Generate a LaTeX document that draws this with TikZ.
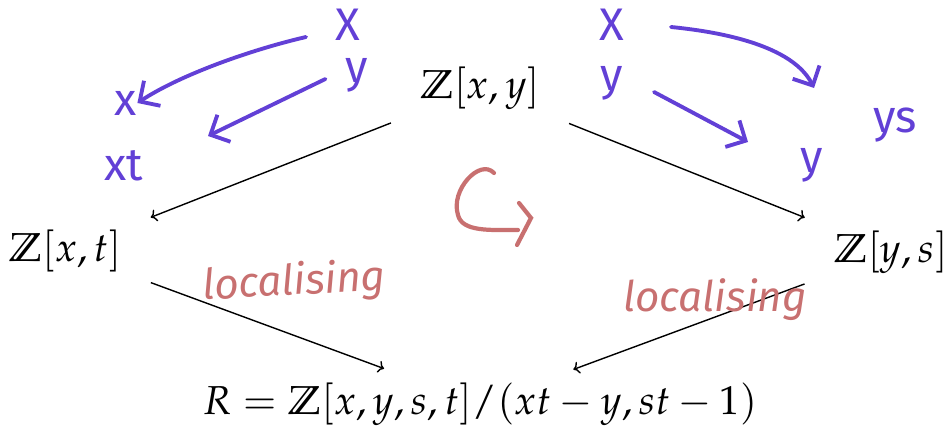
\documentclass[tikz,border=0pt]{standalone}
\usepackage{amssymb}
\usepackage{mathpazo}
\usepackage[no-math]{fontspec}
\newfontfamily\handfont{Fira Sans}
\usetikzlibrary{arrows.meta}
\definecolor{ink}{RGB}{98,64,214}
\definecolor{chalk}{RGB}{200,112,112}
\tikzset{
  ring/.style={font=\fontsize{23}{27}\selectfont},
  map/.style={->,line width=0.8pt,shorten <=0.5cm,shorten >=0.5cm},
  pen/.style={draw=ink,line width=2.2pt,line cap=round,-{Straight Barb[length=0.3cm,width=0.6cm]}},
  penlabel/.style={text=ink,font=\handfont\fontsize{26}{28}\selectfont,inner sep=0pt},
  note/.style={text=chalk,font=\handfont\itshape\fontsize{24}{26}\selectfont}
}
\begin{document}
\begin{tikzpicture}[x=0.02cm,y=-0.02cm]
\useasboundingbox (0,0) rectangle (952,438);

% the four rings
\node[ring] (zxy) at (480,88) {$\mathbb{Z}[x,y]$};
\node[ring] (zxt) at (65,251) {$\mathbb{Z}[x,t]$};
\node[ring] (zys) at (891,252) {$\mathbb{Z}[y,s]$};
\node[ring] (quot) at (480,404) {$R=\mathbb{Z}[x,y,s,t]/(xt-y,st-1)$};

\draw[map] (zxy) -- (zxt);
\draw[map] (zxy) -- (zys);
\draw[map,shorten >=0.45cm] (zxt) -- (quot);
\draw[map,shorten >=0.4cm] (zys) -- (quot);

% handwritten images of the generators
\node[penlabel] (lX) at (348,25) {X};
\node[penlabel] (ly) at (357,75) {y};
\node[penlabel] (lx) at (126,103) {x};
\node[penlabel] (lxt) at (124,166) {xt};
\coordinate (lend) at (208,136);
\draw[pen] (306,37) .. controls (250,50) and (180,75) .. (lx.east);
\draw[pen] (ly.west) ++(-20,4) -- (lend);

\node[penlabel] (rX) at (612,25) {X};
\node[penlabel] (ry) at (612,83) {y};
\node[penlabel] (ry2) at (812,165) {y};
\node[penlabel] (rys) at (895,125) {ys};
\coordinate (rend1) at (814,88);
\coordinate (rend2) at (748,142);
\draw[pen] (671,27) .. controls (700,30) and (790,40) .. (rend1);
\draw[pen] (654,92) -- (rend2);

% commutes
\draw[chalk,line width=2.4pt,line cap=round] (494,173) .. controls (480,158) and (450,190) .. (458,215)
  .. controls (462,232) and (490,230) .. (518,230);
\draw[chalk,line width=2.4pt,line cap=round] (519,203) -- (531,218) -- (517,245);

\node[note,rotate=3] (lloc) at (294,283) {localising};
\node[note] (rloc) at (715,300) {localising};
\end{tikzpicture}
\end{document}
